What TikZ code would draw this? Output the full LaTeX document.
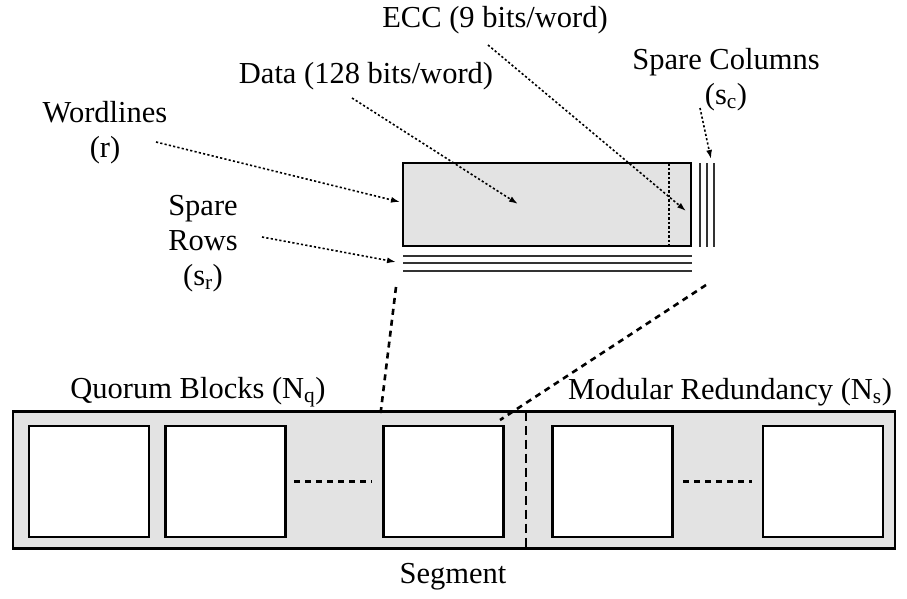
\documentclass[tikz,border=0pt]{standalone}
\usepackage{fontspec}
\setmainfont{Liberation Serif}
\usetikzlibrary{arrows.meta}
\begin{document}
\begin{tikzpicture}[x=1pt,y=-1pt,
  lbl/.style={font=\fontsize{30.5}{35}\selectfont, inner sep=0pt, align=center},
  dotarrow/.style={line width=1.6pt, dash pattern=on 2.2pt off 2.2pt, -{Latex[length=9pt,width=6pt]}},
  bigdash/.style={line width=2.6pt, dash pattern=on 6pt off 5pt},
  graybox/.style={draw, line width=2.4pt, fill=gray!22, inner sep=0pt},
  whitebox/.style={draw, line width=2.4pt, fill=white, inner sep=0pt, minimum width=120pt, minimum height=111pt},
  spare/.style={line width=1.6pt, draw=black!80}
]
\useasboundingbox (0,0) rectangle (907,598);
% segment
\node[graybox, minimum width=882pt, minimum height=137pt] (seg) at (454,480) {};
\node[whitebox] (b1) at (89,481.5) {};
\node[whitebox] (b2) at (225.5,481.5) {};
\node[whitebox] (b3) at (443.5,481.5) {};
\node[whitebox] (b4) at (612.5,481.5) {};
\node[whitebox] (b5) at (823,481.5) {};
\draw[line width=1.5pt, dash pattern=on 9pt off 5pt] (526,411.5) -- (526,548.5);
\coordinate (d1a) at (294,481.5);
\coordinate (d1b) at (372,481.5);
\coordinate (d2a) at (683,481.5);
\coordinate (d2b) at (752,481.5);
\draw[bigdash] (d1a) -- (d1b);
\draw[bigdash] (d2a) -- (d2b);
\node[lbl] (qb) at (198,392) {Quorum Blocks (N\textsubscript{q})};
\node[lbl] (mr) at (730,392) {Modular Redundancy (N\textsubscript{s})};
\node[lbl] (segl) at (453,577) {Segment};
% top block
\node[graybox, minimum width=288pt, minimum height=83pt] (blk) at (547,204.5) {};
\draw[line width=1.3pt, dash pattern=on 2.5pt off 2pt] (669,163) -- (669,246);
\foreach \y in {256,263,271} \draw[spare] (403,\y) -- (692,\y);
\foreach \x in {700,707,714} \draw[spare] (\x,163) -- (\x,247);
% labels
\node[lbl] (ecc) at (495,20) {ECC (9 bits/word)};
\node[lbl] (data) at (366,76) {Data (128 bits/word)};
\node[lbl] (sc) at (726,80) {Spare Columns\\(s\textsubscript{c})};
\node[lbl] (wl) at (105,133) {Wordlines\\(r)};
\node[lbl] (sr) at (203,244) {Spare\\Rows\\(s\textsubscript{r})};
% arrows
\coordinate (dataT) at (518,204);
\coordinate (eccT) at (686,211);
\coordinate (wlT) at (400,202);
\coordinate (srT) at (396,262);
\coordinate (scT) at (711,159);
\coordinate (wlS) at (156,142);
\coordinate (dataS) at (352,98);
\coordinate (eccS) at (488,45);
\coordinate (scS) at (700,108);
\coordinate (srS) at (262,237);
\draw[dotarrow] (wlS) -- (wlT);
\draw[dotarrow] (dataS) -- (dataT);
\draw[dotarrow] (eccS) -- (eccT);
\draw[dotarrow] (scS) -- (scT);
\draw[dotarrow] (srS) -- (srT);
% zoom lines
\coordinate (zl) at (396,287);
\coordinate (zr) at (706,285);
\coordinate (zl2) at (380,418);
\coordinate (zr2) at (500,420);
\draw[bigdash] (zl) -- (zl2);
\draw[bigdash] (zr) -- (zr2);
\end{tikzpicture}
\end{document}
